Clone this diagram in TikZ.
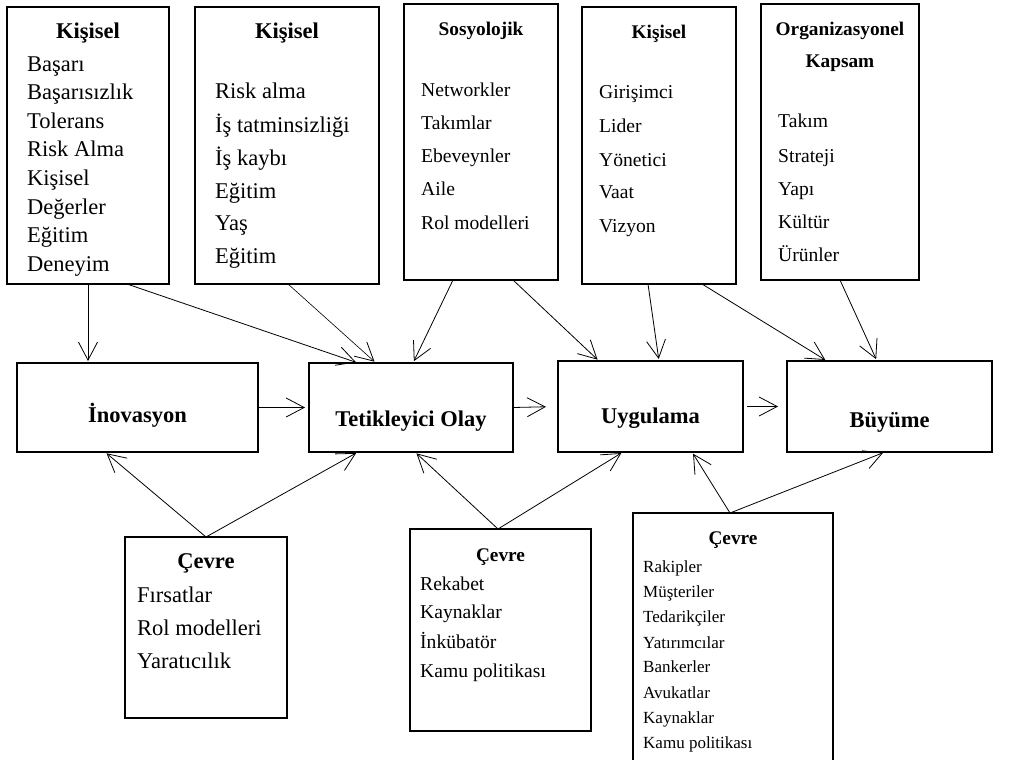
\documentclass[tikz,border=0pt]{standalone}
\usepackage{fontspec}
\setmainfont{Liberation Serif}
\usetikzlibrary{arrows.meta}
\begin{document}
\begin{tikzpicture}[x=1pt,y=-1pt,
  box/.style={draw, line width=1.2pt, inner sep=0pt, outer sep=0pt},
  flow/.style={line width=0.8pt, shorten >=2pt,
    -{Straight Barb[length=18pt,width=19pt,line width=0.8pt]}},
  big/.style={anchor=base west, inner sep=0pt, font=\fontsize{22.5}{27}\selectfont},
  mid/.style={anchor=base west, inner sep=0pt, font=\fontsize{19.6}{23}\selectfont},
  small/.style={anchor=base west, inner sep=0pt, font=\fontsize{17}{20}\selectfont},
  head/.style={anchor=base, inner sep=0pt, font=\fontsize{22.5}{27}\selectfont\bfseries},
  subhead/.style={anchor=base, inner sep=0pt, font=\fontsize{19.3}{23}\selectfont\bfseries},
  stage/.style={anchor=base, inner sep=0pt, font=\fontsize{22.5}{27}\selectfont\bfseries}
]
\useasboundingbox (0,0) rectangle (1026,760);

% upper factor boxes
\node[box, minimum width=162pt, minimum height=277pt] (k1) at (88,145.5) {};
\node[box, minimum width=184pt, minimum height=277pt] (k2) at (287,145.5) {};
\node[box, minimum width=154pt, minimum height=276pt] (k3) at (481,142) {};
\node[box, minimum width=154pt, minimum height=277pt] (k4) at (659,145.5) {};
\node[box, minimum width=158pt, minimum height=276pt] (k5) at (840,142) {};

% process stages
\node[box, minimum width=241pt, minimum height=89pt] (ino) at (137.5,407.5) {};
\node[box, minimum width=204pt, minimum height=89pt] (tet) at (411,407.5) {};
\node[box, minimum width=185pt, minimum height=91pt] (uyg) at (650.5,406.5) {};
\node[box, minimum width=205pt, minimum height=91pt] (buy) at (889.5,406.5) {};

% environment boxes
\node[box, minimum width=162pt, minimum height=181pt] (c1) at (206,627.5) {};
\node[box, minimum width=181pt, minimum height=202pt] (c2) at (500.5,630) {};
\node[box, minimum width=200pt, minimum height=262pt] (c3) at (733,644) {};

% stage labels
\node[stage] (inoL) at (137.5,422) {İnovasyon};
\node[stage] (tetL) at (411,426) {Tetikleyici Olay};
\node[stage] (uygL) at (650.5,423) {Uygulama};
\node[stage] (buyL) at (889.5,427) {Büyüme};

% box titles
\node[head] (k1h) at (88,39) {Kişisel};
\node[head] (k2h) at (287,39) {Kişisel};
\node[subhead] (k3h) at (481,36) {Sosyolojik};
\node[subhead] (k4h) at (659,39) {Kişisel};
\node[subhead] (k5h) at (840,36) {Organizasyonel};
\node[subhead] (k5h2) at (840,68) {Kapsam};
\node[head] (c1h) at (206,568) {Çevre};
\node[subhead] (c2h) at (500.5,561) {Çevre};
\node[subhead] (c3h) at (733,544) {Çevre};

% item lists
\foreach \t/\y [count=\i] in {Başarı/71, Başarısızlık/99.6, Tolerans/128.2,
    Risk Alma/156.8, Kişisel/185.4, Değerler/214, Eğitim/242.6, Deneyim/271.2}
  \node[big, name=k1t\i] at (27,\y) {\t};
\foreach \t/\y [count=\i] in {Risk alma/99, İş tatminsizliği/132, İş kaybı/165,
    Eğitim/198, Yaş/230, Eğitim/263}
  \node[big, name=k2t\i] at (215,\y) {\t};
\foreach \t/\y [count=\i] in {Networkler/96, Takımlar/129, Ebeveynler/162,
    Aile/195, Rol modelleri/229}
  \node[mid, name=k3t\i] at (421,\y) {\t};
\foreach \t/\y [count=\i] in {Girişimci/99, Lider/132, Yönetici/166,
    Vaat/198, Vizyon/232}
  \node[mid, name=k4t\i] at (599,\y) {\t};
\foreach \t/\y [count=\i] in {Takım/128, Strateji/162, Yapı/195,
    Kültür/228, Ürünler/261}
  \node[mid, name=k5t\i] at (778,\y) {\t};
\foreach \t/\y [count=\i] in {Fırsatlar/602, Rol modelleri/635, Yaratıcılık/668}
  \node[big, name=c1t\i] at (137,\y) {\t};
\foreach \t/\y [count=\i] in {Rekabet/590, Kaynaklar/618, İnkübatör/648,
    Kamu politikası/677}
  \node[mid, name=c2t\i] at (420,\y) {\t};
\foreach \t/\y [count=\i] in {Rakipler/572, Müşteriler/597, Tedarikçiler/622,
    Yatırımcılar/648, Bankerler/672, Avukatlar/698, Kaynaklar/723,
    Kamu politikası/748}
  \node[small, name=c3t\i] at (643,\y) {\t};

% influences from the upper boxes
\draw[flow] (k1.south) -- ([xshift=71pt]ino.north west);
\draw[flow] ([xshift=120pt]k1.south west) -- ([xshift=49pt]tet.north west);
\draw[flow, line width=0.6pt] ([xshift=93pt]k2.south west) -- ([xshift=67pt]tet.north west);
\draw[flow] ([xshift=49pt]k3.south west) -- ([xshift=104pt]tet.north west);
\draw[flow] ([xshift=109pt]k3.south west) -- ([xshift=41pt]uyg.north west);
\draw[flow] ([xshift=66pt]k4.south west) -- ([xshift=101pt]uyg.north west);
\draw[flow] ([xshift=120pt]k4.south west) -- ([xshift=40pt]buy.north west);
\draw[flow] ([xshift=79pt]k5.south west) -- ([xshift=90pt]buy.north west);

% process flow
\draw[flow, shorten >=4pt] (ino.east) -- (tet.west);
\draw[flow, shorten >=12pt] (tet.east) -- (uyg.west);
\draw[flow, shorten <=4pt, shorten >=9pt] (uyg.east) -- (buy.west);

% environmental influences
\draw[flow] (c1.north) -- ([xshift=88pt]ino.south west);
\draw[flow] (c1.north) -- ([xshift=49pt]tet.south west);
\draw[flow] ([xshift=88pt]c2.north west) -- ([xshift=106pt]tet.south west);
\draw[flow] ([xshift=88pt]c2.north west) -- ([xshift=65pt]uyg.south west);
\draw[flow] ([xshift=97pt]c3.north west) -- ([xshift=134pt]uyg.south west);
\draw[flow] ([xshift=97pt]c3.north west) -- ([xshift=98pt]buy.south west);
\end{tikzpicture}
\end{document}
